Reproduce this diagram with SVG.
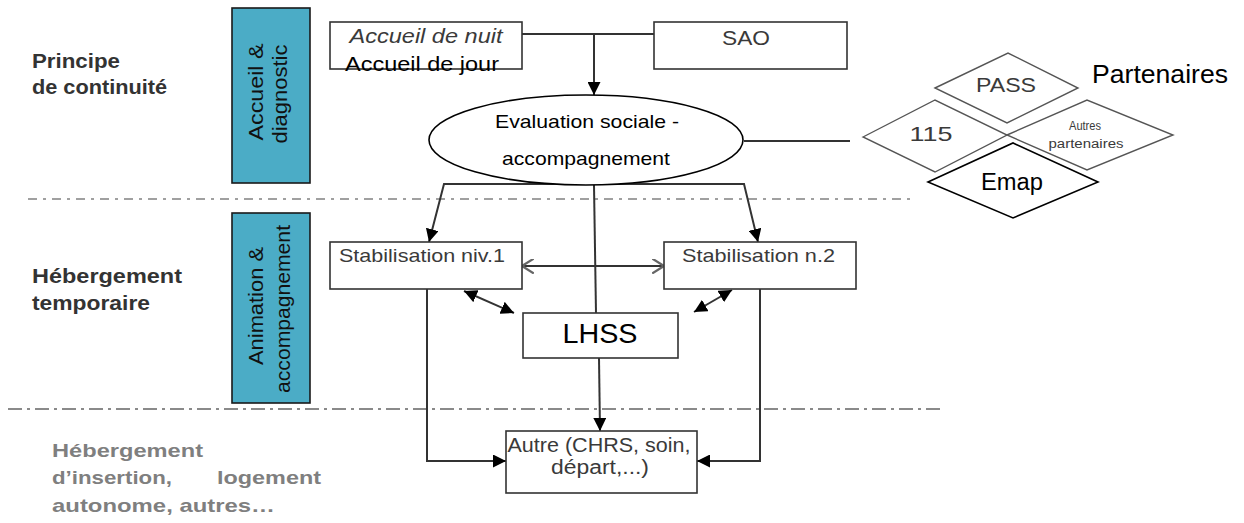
<svg xmlns="http://www.w3.org/2000/svg" width="1244" height="523" viewBox="0 0 1244 523">
<style>
text{font-family:"Liberation Sans",Arial,sans-serif}
.box{fill:#fff;stroke:#333;stroke-width:1.6}
.band{fill:#4bacc6;stroke:#1a1a1a;stroke-width:1.6}
.dia{fill:#fff;stroke:#555;stroke-width:1.4}
.conn{fill:none;stroke:#333;stroke-width:2}
.lbl{fill:#333;font-weight:bold;font-size:20px}
.gry{fill:#7f7f7f;font-weight:bold;font-size:19px}
.dk{fill:#3a3a3a}
</style>
<defs>
<marker id="tri" viewBox="0 0 10 10" refX="10" refY="5" markerWidth="13" markerHeight="13" markerUnits="userSpaceOnUse" orient="auto-start-reverse">
<path d="M0,0 L10,5 L0,10 z" fill="#000"/>
</marker>
<marker id="chev" viewBox="0 0 12 14" refX="11" refY="7" markerWidth="13" markerHeight="15" markerUnits="userSpaceOnUse" orient="auto-start-reverse">
<path d="M0,0 L11,7 L0,14" fill="none" stroke="#666" stroke-width="2"/>
</marker>
</defs>

<g id="separators">
<line x1="28" y1="199" x2="910" y2="199" stroke="#a0a0a0" stroke-width="2" stroke-dasharray="9,6,3,6"/>
<line x1="8" y1="409" x2="945" y2="409" stroke="#8a8a8a" stroke-width="2" stroke-dasharray="14,5,3,5"/>
</g>

<g id="label-continuite">
<text class="lbl" x="32" y="68" textLength="88" lengthAdjust="spacingAndGlyphs">Principe</text>
<text class="lbl" x="32" y="94" textLength="135" lengthAdjust="spacingAndGlyphs">de continuité</text>
</g>
<g id="label-temporaire">
<text class="lbl" x="32" y="283" textLength="150" lengthAdjust="spacingAndGlyphs">Hébergement</text>
<text class="lbl" x="32" y="310" textLength="118" lengthAdjust="spacingAndGlyphs">temporaire</text>
</g>
<g id="label-insertion">
<text class="gry" x="52" y="457" textLength="151" lengthAdjust="spacingAndGlyphs">Hébergement</text>
<text class="gry" x="52" y="484" textLength="120" lengthAdjust="spacingAndGlyphs">d’insertion,</text>
<text class="gry" x="217" y="484" textLength="104" lengthAdjust="spacingAndGlyphs">logement</text>
<text class="gry" x="52" y="512" textLength="223" lengthAdjust="spacingAndGlyphs">autonome, autres…</text>
</g>

<g id="band-accueil">
<rect class="band" x="232" y="8" width="78" height="175"/>
<text transform="translate(263,92) rotate(-90)" text-anchor="middle" font-size="20" fill="#111" textLength="97" lengthAdjust="spacingAndGlyphs">Accueil &amp;</text>
<text transform="translate(287,94) rotate(-90)" text-anchor="middle" font-size="20" fill="#111" textLength="99" lengthAdjust="spacingAndGlyphs">diagnostic</text>
</g>
<g id="band-animation">
<rect class="band" x="232" y="213" width="78" height="190"/>
<text transform="translate(263,306) rotate(-90)" text-anchor="middle" font-size="20" fill="#111" textLength="118" lengthAdjust="spacingAndGlyphs">Animation &amp;</text>
<text transform="translate(290,309) rotate(-90)" text-anchor="middle" font-size="20" fill="#111" textLength="168" lengthAdjust="spacingAndGlyphs">accompagnement</text>
</g>

<g id="connectors">
<path class="conn" d="M522,34 H654"/>
<path class="conn" d="M594,34 V95" marker-end="url(#tri)"/>
<path class="conn" d="M744,141 H850"/>
<path class="conn" d="M429,242 L444,184 H744 L758,242" marker-start="url(#tri)" marker-end="url(#tri)"/>
<path class="conn" d="M594,185 L596,313"/>
<path class="conn" d="M599,358 L600,431" marker-end="url(#tri)"/>
<path class="conn" d="M427,289 V461 H506" marker-end="url(#tri)"/>
<path class="conn" d="M760,289 V461 H697" marker-end="url(#tri)"/>
<path class="conn" d="M522,266 H664" stroke-width="1.6" marker-start="url(#chev)" marker-end="url(#chev)"/>
<path class="conn" d="M464,291 L514,313" marker-start="url(#tri)" marker-end="url(#tri)"/>
<path class="conn" d="M732,290 L694,312" marker-start="url(#tri)" marker-end="url(#tri)"/>
</g>

<g id="accueil">
<rect class="box" x="330" y="22" width="192" height="47"/>
<text x="426" y="43" text-anchor="middle" font-size="20" font-style="italic" class="dk" textLength="153" lengthAdjust="spacingAndGlyphs">Accueil de nuit</text>
<text x="345" y="71" font-size="21" fill="#000" textLength="154" lengthAdjust="spacingAndGlyphs">Accueil de jour</text>
</g>
<g id="sao">
<rect class="box" x="654" y="22" width="193" height="47"/>
<text x="746" y="45" text-anchor="middle" font-size="20" class="dk" textLength="48" lengthAdjust="spacingAndGlyphs">SAO</text>
</g>
<g id="evaluation">
<ellipse cx="586" cy="140" rx="157" ry="45" fill="#fff" stroke="#000" stroke-width="1.6"/>
<text x="587" y="128" text-anchor="middle" font-size="19" fill="#000" textLength="184" lengthAdjust="spacingAndGlyphs">Evaluation sociale -</text>
<text x="586" y="165" text-anchor="middle" font-size="19" fill="#000" textLength="168" lengthAdjust="spacingAndGlyphs">accompagnement</text>
</g>
<g id="stab1">
<rect class="box" x="330" y="242" width="192" height="47"/>
<text x="339" y="262" font-size="19" class="dk" textLength="166" lengthAdjust="spacingAndGlyphs">Stabilisation niv.1</text>
</g>
<g id="stab2">
<rect class="box" x="664" y="242" width="192" height="47"/>
<text x="682" y="262" font-size="19" class="dk" textLength="153" lengthAdjust="spacingAndGlyphs">Stabilisation n.2</text>
</g>
<g id="lhss">
<rect class="box" x="523" y="313" width="155" height="45" stroke="#000"/>
<text x="600" y="343" text-anchor="middle" font-size="28" fill="#000" textLength="75" lengthAdjust="spacingAndGlyphs">LHSS</text>
</g>
<g id="autre">
<rect class="box" x="506" y="431" width="191" height="62"/>
<text x="599" y="452" text-anchor="middle" font-size="20" class="dk" textLength="183" lengthAdjust="spacingAndGlyphs">Autre (CHRS, soin,</text>
<text x="600" y="474" text-anchor="middle" font-size="20" class="dk" textLength="98" lengthAdjust="spacingAndGlyphs">départ,...)</text>
</g>

<g id="partenaires">
<text x="1092" y="83" font-size="25" fill="#000" textLength="136" lengthAdjust="spacingAndGlyphs">Partenaires</text>
</g>
<g id="pass">
<polygon class="dia" points="935,88 1008,53 1078,88 1007,123"/>
<text x="1006" y="92" text-anchor="middle" font-size="21" class="dk" textLength="60" lengthAdjust="spacingAndGlyphs">PASS</text>
</g>
<g id="n115">
<polygon class="dia" points="863,137 935,100 1007,135 935,172"/>
<text x="931" y="141" text-anchor="middle" font-size="21" class="dk" textLength="43" lengthAdjust="spacingAndGlyphs">115</text>
</g>
<g id="autres-partenaires">
<polygon class="dia" points="1007,135 1087,100 1173,135 1087,170"/>
<text x="1085" y="130" text-anchor="middle" font-size="12" class="dk" textLength="32" lengthAdjust="spacingAndGlyphs">Autres</text>
<text x="1086" y="148" text-anchor="middle" font-size="12" class="dk" textLength="75" lengthAdjust="spacingAndGlyphs">partenaires</text>
</g>
<g id="emap">
<polygon points="928,182 1013,143 1098,182 1013,218" fill="#fff" stroke="#000" stroke-width="1.6"/>
<text x="1012" y="190" text-anchor="middle" font-size="23" fill="#000" textLength="62" lengthAdjust="spacingAndGlyphs">Emap</text>
</g>
</svg>
